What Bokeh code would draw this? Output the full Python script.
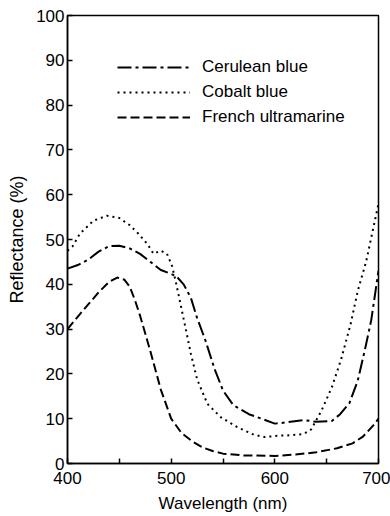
from bokeh.plotting import figure
from bokeh.models import Range1d, FixedTicker, Legend, LegendItem
from bokeh.embed import file_html
from bokeh.resources import INLINE

# Data (wavelength nm, reflectance %)
cerulean_wl = [400, 410, 420, 430, 440, 450, 460, 470, 480, 490, 500, 505, 512, 519, 525, 533, 542, 550, 560, 575, 587, 600, 612, 628, 640, 655, 663, 672, 680, 687, 693, 700]
cerulean_r = [43.5, 44.3, 45.5, 47.3, 48.5, 48.6, 48.0, 46.8, 45.0, 43.2, 42.3, 41.8, 40.0, 37.0, 32.5, 27.5, 21.0, 16.3, 13.0, 11.0, 10.0, 8.9, 9.2, 9.7, 9.3, 9.5, 11.0, 13.5, 18.5, 25.5, 32.0, 43.0]

cobalt_wl = [400, 405, 412, 425, 438, 450, 460, 468, 477, 483, 490, 496, 501, 505, 510, 515, 519, 525, 535, 548, 564, 580, 590, 603, 615, 628, 635, 645, 655, 664, 673, 680, 688, 694, 700]
cobalt_r = [47.5, 48.5, 51.3, 54.2, 55.3, 54.8, 53.2, 51.4, 49.0, 46.8, 47.5, 46.8, 44.0, 40.0, 34.5, 29.0, 24.5, 18.8, 13.3, 10.3, 8.1, 6.4, 5.9, 6.2, 6.3, 6.6, 7.6, 11.8, 17.0, 23.3, 31.0, 38.5, 45.0, 51.5, 58.0]

french_wl = [400, 410, 420, 430, 440, 448, 455, 460, 465, 470, 475, 480, 490, 500, 510, 520, 530, 540, 550, 570, 600, 620, 640, 660, 675, 685, 695, 700]
french_r = [30.0, 32.8, 35.5, 38.2, 40.5, 41.5, 41.0, 39.5, 36.5, 33.0, 29.0, 25.0, 16.5, 10.0, 6.8, 5.0, 3.6, 2.8, 2.2, 1.8, 1.7, 2.0, 2.5, 3.4, 4.5, 6.0, 8.5, 10.0]

series_names = ["Cerulean blue", "Cobalt blue", "French ultramarine"]
x_major = [400, 500, 600, 700]
x_minor = [450, 550, 650]
y_ticks = [0, 10, 20, 30, 40, 50, 60, 70, 80, 90, 100]

FONT = "Liberation Sans"

p = figure(width=390, height=516, output_backend="svg", toolbar_location=None,
           x_range=Range1d(400, 700), y_range=Range1d(0, 100),
           min_border_left=67, min_border_right=12, min_border_top=15, min_border_bottom=53)
p.grid.visible = False
p.outline_line_color = "black"
p.outline_line_width = 1.5
p.background_fill_color = "white"
p.border_fill_color = "white"

r1 = p.line(cerulean_wl, cerulean_r, line_color="black", line_width=2, line_dash="14 4 3 4")
r2 = p.line(cobalt_wl, cobalt_r, line_color="black", line_width=2, line_dash="2 4")
r3 = p.line(french_wl, french_r, line_color="black", line_width=2, line_dash="9 4")

xa = p.xaxis[0]
xa.ticker = FixedTicker(ticks=x_major, minor_ticks=x_minor)
xa.axis_label = "Wavelength (nm)"
ya = p.yaxis[0]
ya.ticker = FixedTicker(ticks=y_ticks)
ya.axis_label = "Reflectance (%)"
ya.minor_tick_line_color = None

for ax in (xa, ya):
    ax.axis_line_color = "black"
    ax.axis_line_width = 1.5
    ax.major_tick_in = 5
    ax.major_tick_out = 0
    ax.minor_tick_in = 5
    ax.minor_tick_out = 0
    ax.major_tick_line_width = 1.5
    ax.minor_tick_line_width = 1.5
    ax.major_label_text_font = FONT
    ax.major_label_text_font_size = "17px"
    ax.major_label_text_color = "black"
    ax.axis_label_text_font = FONT
    ax.axis_label_text_font_style = "normal"
    ax.axis_label_text_color = "black"

xa.major_label_standoff = 8
xa.axis_label_standoff = 7
xa.axis_label_text_font_size = "17px"
ya.major_label_standoff = 3
ya.axis_label_standoff = 6
ya.axis_label_text_font_size = "18px"

legend = Legend(items=[LegendItem(label=series_names[0], renderers=[r1]),
                       LegendItem(label=series_names[1], renderers=[r2]),
                       LegendItem(label=series_names[2], renderers=[r3])],
                location=(50, 336), padding=0, margin=0, spacing=5,
                glyph_width=73, glyph_height=20, label_height=20, label_standoff=12,
                label_text_font=FONT, label_text_font_size="17px", label_text_color="black",
                border_line_color=None, background_fill_alpha=0)
p.add_layout(legend)

open("out.html", "w").write(file_html(p, INLINE))
